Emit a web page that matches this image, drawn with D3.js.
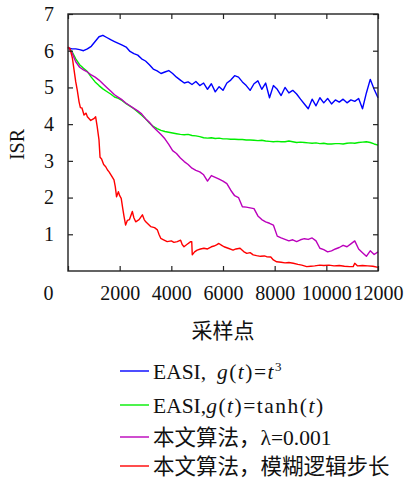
<!DOCTYPE html>
<html>
<head>
<meta charset="utf-8">
<script src="https://cdn.jsdelivr.net/npm/d3@7"></script>
<style>
  body { margin: 0; background: #fff; }
  text { font-family: "Liberation Serif", "Noto Sans CJK SC", serif; fill: #111; }
  .m { font-style: italic; letter-spacing: 1.5px; }
  .p { letter-spacing: 1.5px; }
</style>
</head>
<body>
<div id="chart"></div>
<script>
// sample positions shared by the three EASI / lambda curves
var sample_x = [0,150,300,450,600,750,900,1050,1200,1350,1500,1650,1800,1950,2100,2250,2400,2550,2700,2850,
  3000,3150,3300,3450,3600,3750,3900,4050,4200,4350,4500,4650,4800,4950,5100,5250,5400,5550,5700,5850,
  6000,6150,6300,6450,6600,6750,6900,7050,7200,7350,7500,7650,7800,7950,8100,8250,8400,8550,8700,8850,
  9000,9150,9300,9450,9600,9750,9900,10050,10200,10350,10500,10650,10800,10950,11100,11250,11400,11550,11700,11850,12000];

var easi_cube = [6.08,6.05,6.05,6.03,6.0,6.05,6.12,6.25,6.38,6.42,6.36,6.3,6.25,6.2,6.15,6.1,5.98,5.92,5.88,5.78,
  5.72,5.62,5.5,5.45,5.38,5.42,5.46,5.38,5.28,5.2,5.12,5.15,5.08,5.16,5.05,5.12,4.95,5.1,4.88,5.02,
  4.92,5.12,5.2,5.32,5.28,5.15,5.05,4.92,5.1,5.18,4.95,5.12,4.72,5.05,4.95,4.78,5.0,4.85,4.92,4.82,
  4.68,4.55,4.42,4.68,4.5,4.72,4.58,4.7,4.55,4.66,4.6,4.68,4.58,4.66,4.62,4.7,4.42,4.85,5.22,4.95,4.72];

var easi_tanh = [6.08,5.98,5.78,5.62,5.52,5.43,5.28,5.15,5.05,4.96,4.89,4.82,4.74,4.7,4.64,4.56,4.49,4.42,4.33,4.24,
  4.15,4.03,3.94,3.88,3.83,3.8,3.78,3.76,3.74,3.72,3.71,3.72,3.69,3.68,3.66,3.63,3.62,3.63,3.61,3.62,
  3.6,3.6,3.59,3.59,3.58,3.58,3.57,3.57,3.56,3.55,3.56,3.54,3.53,3.52,3.53,3.52,3.52,3.54,3.52,3.5,
  3.51,3.5,3.49,3.48,3.49,3.47,3.48,3.46,3.46,3.47,3.47,3.46,3.48,3.49,3.48,3.5,3.51,3.52,3.5,3.46,3.43];

var fixed_step = [6.1,5.95,5.7,5.55,5.48,5.42,5.34,5.28,5.2,5.1,5.0,4.9,4.8,4.73,4.66,4.57,4.5,4.43,4.36,4.28,
  4.15,4.05,3.92,3.82,3.72,3.6,3.45,3.28,3.2,3.08,2.98,2.9,2.8,2.74,2.7,2.62,2.45,2.6,2.55,2.5,
  2.45,2.38,2.2,2.05,2.0,1.75,1.74,1.72,1.7,1.5,1.4,1.34,1.3,1.25,0.95,0.9,0.86,0.82,0.85,0.8,
  0.85,0.88,0.86,0.9,0.82,0.62,0.58,0.52,0.55,0.6,0.64,0.7,0.66,0.74,0.82,0.6,0.5,0.4,0.55,0.45,0.52];

// the fuzzy step curve drops fast, so it has its own denser x positions
var fuzzy_x = [0,80,170,230,300,360,430,480,540,620,700,750,880,1000,1070,1130,1200,1240,1300,1380,
  1460,1530,1590,1680,1780,1830,1880,1950,2000,2060,2120,2170,2230,2300,2380,2490,2550,2620,2750,2880,
  2950,3010,3100,3200,3350,3460,3520,3590,3700,3840,4000,4100,4230,4360,4420,4490,4600,4750,4790,4810,
  4900,5000,5130,5260,5400,5550,5650,5750,5840,5950,6040,6200,6390,6500,6660,6800,6920,7050,7170,7300,
  7450,7600,7690,7850,7950,8080,8250,8400,8550,8720,8900,9050,9240,9400,9550,9750,9900,10100,10300,10500,
  10700,10900,11040,11100,11200,11400,11600,11800,12000];
var fuzzy_step = [6.1,6.05,5.8,5.5,5.15,4.92,4.6,4.45,4.44,4.25,4.3,4.2,4.1,4.15,4.2,3.93,3.57,3.1,3.05,2.9,
  2.84,2.75,2.7,2.6,2.48,2.3,2.02,2.16,2.05,1.98,1.7,1.48,1.25,1.38,1.4,1.62,1.45,1.34,1.4,1.53,
  1.4,1.34,1.28,1.21,1.18,1.12,1.0,0.89,0.85,0.8,0.82,0.78,0.8,0.84,0.72,0.66,0.72,0.8,0.8,0.44,
  0.52,0.57,0.6,0.62,0.6,0.66,0.68,0.71,0.75,0.7,0.66,0.62,0.57,0.6,0.62,0.53,0.48,0.5,0.44,0.42,
  0.4,0.41,0.39,0.38,0.3,0.25,0.24,0.22,0.23,0.21,0.18,0.16,0.12,0.13,0.14,0.16,0.15,0.16,0.14,0.15,
  0.13,0.12,0.12,0.21,0.14,0.15,0.14,0.13,0.1];

var x_ticks = [0,2000,4000,6000,8000,10000,12000];
var y_ticks = [1,2,3,4,5,6,7];

var legend_labels = [
  'EASI,&#160; <tspan class="m">g</tspan><tspan class="p">(</tspan><tspan class="m">t</tspan><tspan class="p">)=</tspan><tspan class="m">t</tspan><tspan dy="-8" font-size="13">3</tspan>',
  'EASI,<tspan class="m">g</tspan><tspan class="p">(</tspan><tspan class="m">t</tspan><tspan class="p">)=tanh(</tspan><tspan class="m">t</tspan>)',
  '本文算法，λ=0.001',
  '本文算法，模糊逻辑步长'
];

// SVG properties
var svg_width = 408, svg_height = 478;
var plot_left = 68, plot_right = 378, plot_top = 14, plot_bottom = 271;
var tick_len = 5;
var legend_rows = [371, 405, 437, 466];
var colors = ['#0000ff', '#00ee00', '#bb00bb', '#ff0000'];

var svg = d3.select('#chart').append('svg')
    .attr('width', svg_width)
    .attr('height', svg_height);

var scale_x = d3.scaleLinear().domain([0, 12000]).range([plot_left, plot_right]);
var scale_y = d3.scaleLinear().domain([0, 7]).range([plot_bottom, plot_top]);

var series = [
  {x: sample_x, y: easi_cube},
  {x: sample_x, y: easi_tanh},
  {x: sample_x, y: fixed_step},
  {x: fuzzy_x, y: fuzzy_step}
];

var line = d3.line()
    .x(function(d){ return scale_x(d[0]); })
    .y(function(d){ return scale_y(d[1]); });

svg.selectAll('path.series')
    .data(series)
    .enter()
    .append('path')
    .attr('class', 'series')
    .attr('d', function(s){ return line(d3.zip(s.x, s.y)); })
    .attr('fill', 'none')
    .attr('stroke', function(s, i){ return colors[i]; })
    .attr('stroke-width', 1.4)
    .attr('stroke-linejoin', 'round');

// axes, ticks pointing inward on all four sides
var ax_bottom = svg.append('g')
    .attr('transform', 'translate(0,' + plot_bottom + ')')
    .call(d3.axisBottom(scale_x).tickValues(x_ticks).tickSize(-tick_len).tickPadding(15).tickFormat(d3.format('d')));
svg.append('g')
    .attr('transform', 'translate(' + plot_left + ',0)')
    .call(d3.axisLeft(scale_y).tickValues(y_ticks).tickSize(-tick_len).tickPadding(14).tickFormat(d3.format('d')));
svg.append('g')
    .attr('transform', 'translate(0,' + plot_top + ')')
    .call(d3.axisTop(scale_x).tickValues(x_ticks).tickSize(-tick_len).tickFormat(''));
svg.append('g')
    .attr('transform', 'translate(' + plot_right + ',0)')
    .call(d3.axisRight(scale_y).tickValues(y_ticks).tickSize(-tick_len).tickFormat(''));

svg.selectAll('.domain').remove();
svg.selectAll('.tick line').attr('stroke', '#222').attr('stroke-width', 1.2);
svg.selectAll('.tick text')
    .style('font-family', '"Liberation Serif", serif')
    .style('font-size', '20px')
    .attr('fill', '#111');
// the "0" label sits left of the frame in the original
ax_bottom.selectAll('.tick text').filter(function(d){ return d === 0; }).attr('x', -20);

svg.append('rect')
    .attr('x', plot_left).attr('y', plot_top)
    .attr('width', plot_right - plot_left).attr('height', plot_bottom - plot_top)
    .attr('fill', 'none')
    .attr('stroke', '#222')
    .attr('stroke-width', 1.4);

// axis titles
svg.append('text')
    .attr('transform', 'translate(24,' + ((plot_top + plot_bottom) / 2 + 2) + ') rotate(-90)')
    .attr('text-anchor', 'middle')
    .style('font-size', '20px')
    .text('ISR');
svg.append('text')
    .attr('x', (plot_left + plot_right) / 2)
    .attr('y', 338)
    .attr('text-anchor', 'middle')
    .style('font-size', '21px')
    .style('font-family', '"Noto Sans CJK SC", sans-serif')
    .text('采样点');

// legend
var legend = svg.selectAll('g.legend')
    .data(legend_labels)
    .enter()
    .append('g')
    .attr('class', 'legend')
    .attr('transform', function(d, i){ return 'translate(0,' + legend_rows[i] + ')'; });

legend.append('line')
    .attr('x1', 120).attr('x2', 149)
    .attr('y1', 0).attr('y2', 0)
    .attr('stroke', function(d, i){ return colors[i]; })
    .attr('stroke-width', 1.4);

legend.append('text')
    .attr('x', 153)
    .attr('y', 8)
    .style('font-size', '21.5px')
    .html(function(d){ return d; });
</script>
</body>
</html>
